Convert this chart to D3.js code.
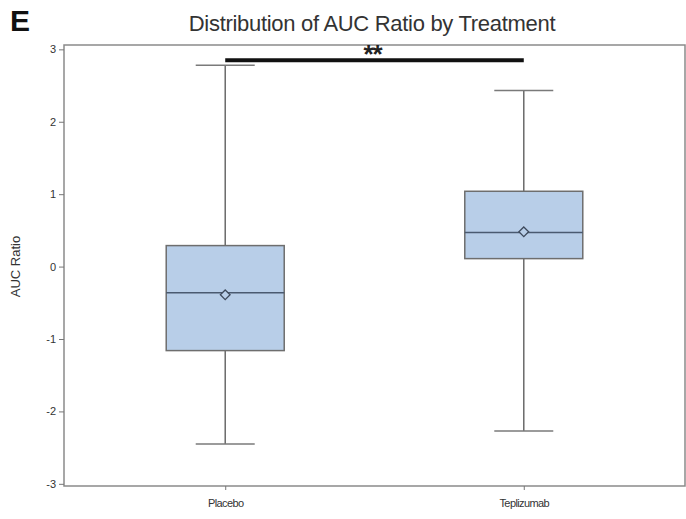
<!DOCTYPE html>
<html>
<head>
<meta charset="utf-8">
<script src="https://cdn.jsdelivr.net/npm/d3@7"></script>
<style>
  body { margin: 0; background: #fff; }
  text { font-family: "Liberation Sans", Arial, sans-serif; }
</style>
</head>
<body>
<svg id="chart"></svg>
<script>
// box summary values
var groups = ["Placebo", "Teplizumab"]
var whiskLow = [-2.45, -2.27]
var q1 = [-1.16, 0.11]
var median = [-0.36, 0.47]
var mean = [-0.39, 0.48]
var q3 = [0.29, 1.04]
var whiskHigh = [2.78, 2.43]
var yTicks = [-3, -2, -1, 0, 1, 2, 3]

var W = 686, H = 519
var margin = {top: 45, right: 1, bottom: 33, left: 64}
var width = W - margin.left - margin.right
var height = H - margin.top - margin.bottom

var svg = d3.select("#chart")
    .attr("width", W)
    .attr("height", H)

var g = svg.append("g")
    .attr("transform", "translate(" + margin.left + "," + margin.top + ")")

var x = d3.scalePoint()
    .domain(groups)
    .range([0, width])
    .padding(0.54)

var y = d3.scaleLinear()
    .domain([-3.03, 3.06])
    .range([height, 0])

var boxW = 118, capW = 59

// frame
g.append("rect")
    .attr("width", width)
    .attr("height", height)
    .attr("fill", "none")
    .attr("stroke", "#8a8a8a")
    .attr("stroke-width", 1.5)

// y axis
var yAxis = g.append("g")
    .call(d3.axisLeft(y).tickValues(yTicks).tickSize(5).tickPadding(3).tickFormat(d => String(d)))
yAxis.select(".domain").remove()
yAxis.selectAll("line").attr("stroke", "#777")
yAxis.selectAll("text").attr("font-size", 11).attr("fill", "#333")
    .style("font-family", "Liberation Sans, Arial, sans-serif")

// x axis
var xAxis = g.append("g")
    .attr("transform", "translate(0," + height + ")")
    .call(d3.axisBottom(x).tickSize(4).tickPadding(9))
xAxis.select(".domain").remove()
xAxis.selectAll("line").attr("stroke", "#777")
xAxis.selectAll("text").attr("font-size", 11).attr("fill", "#333")
    .attr("letter-spacing", -0.6)
    .style("font-family", "Liberation Sans, Arial, sans-serif")

// y label
svg.append("text")
    .attr("transform", "translate(20," + (margin.top + y(0)) + ") rotate(-90)")
    .attr("text-anchor", "middle")
    .attr("font-size", 13)
    .attr("fill", "#333")
    .text("AUC Ratio")

// boxes
var data = groups.map(function(d, i) {
    return {name: d, lo: whiskLow[i], q1: q1[i], med: median[i], mean: mean[i], q3: q3[i], hi: whiskHigh[i]}
})

var box = g.selectAll(".box")
    .data(data)
    .enter().append("g")
    .attr("transform", d => "translate(" + x(d.name) + ",0)")

box.append("line")
    .attr("y1", d => y(d.lo)).attr("y2", d => y(d.q1))
    .attr("stroke", "#6a6a6a").attr("stroke-width", 1.5)
box.append("line")
    .attr("y1", d => y(d.q3)).attr("y2", d => y(d.hi))
    .attr("stroke", "#6a6a6a").attr("stroke-width", 1.5)
box.append("line")
    .attr("x1", -capW / 2).attr("x2", capW / 2)
    .attr("y1", d => y(d.lo)).attr("y2", d => y(d.lo))
    .attr("stroke", "#7a7a7a").attr("stroke-width", 1.5)
box.append("line")
    .attr("x1", -capW / 2).attr("x2", capW / 2)
    .attr("y1", d => y(d.hi)).attr("y2", d => y(d.hi))
    .attr("stroke", "#7a7a7a").attr("stroke-width", 1.5)

box.append("rect")
    .attr("x", -boxW / 2)
    .attr("width", boxW)
    .attr("y", d => y(d.q3))
    .attr("height", d => y(d.q1) - y(d.q3))
    .attr("fill", "#b8cee8")
    .attr("stroke", "#6e6e6e")
    .attr("stroke-width", 1.5)

box.append("line")
    .attr("x1", -boxW / 2).attr("x2", boxW / 2)
    .attr("y1", d => y(d.med)).attr("y2", d => y(d.med))
    .attr("stroke", "#4a5a70").attr("stroke-width", 1.5)

box.append("path")
    .attr("d", d3.symbol(d3.symbolDiamond2, 60))
    .attr("transform", d => "translate(0," + y(d.mean) + ")")
    .attr("fill", "#b8cee8")
    .attr("stroke", "#3e4a5c")
    .attr("stroke-width", 1.3)

// significance bar
var sigY = 2.85
g.append("line")
    .attr("x1", x(groups[0])).attr("x2", x(groups[1]))
    .attr("y1", y(sigY)).attr("y2", y(sigY))
    .attr("stroke", "#111").attr("stroke-width", 4)
g.append("text")
    .attr("x", (x(groups[0]) + x(groups[1])) / 2 - 2)
    .attr("y", y(sigY) + 3)
    .attr("text-anchor", "middle")
    .attr("font-size", 26)
    .attr("font-weight", "bold")
    .attr("letter-spacing", -1)
    .attr("fill", "#222")
    .text("**")

// title and panel letter
svg.append("text")
    .attr("x", 372)
    .attr("y", 31)
    .attr("text-anchor", "middle")
    .attr("font-size", 22)
    .attr("fill", "#333")
    .attr("letter-spacing", -0.3)
    .text("Distribution of AUC Ratio by Treatment")

svg.append("text")
    .attr("x", 10)
    .attr("y", 31)
    .attr("font-size", 30)
    .attr("font-weight", "bold")
    .attr("fill", "#111")
    .text("E")
</script>
</body>
</html>
